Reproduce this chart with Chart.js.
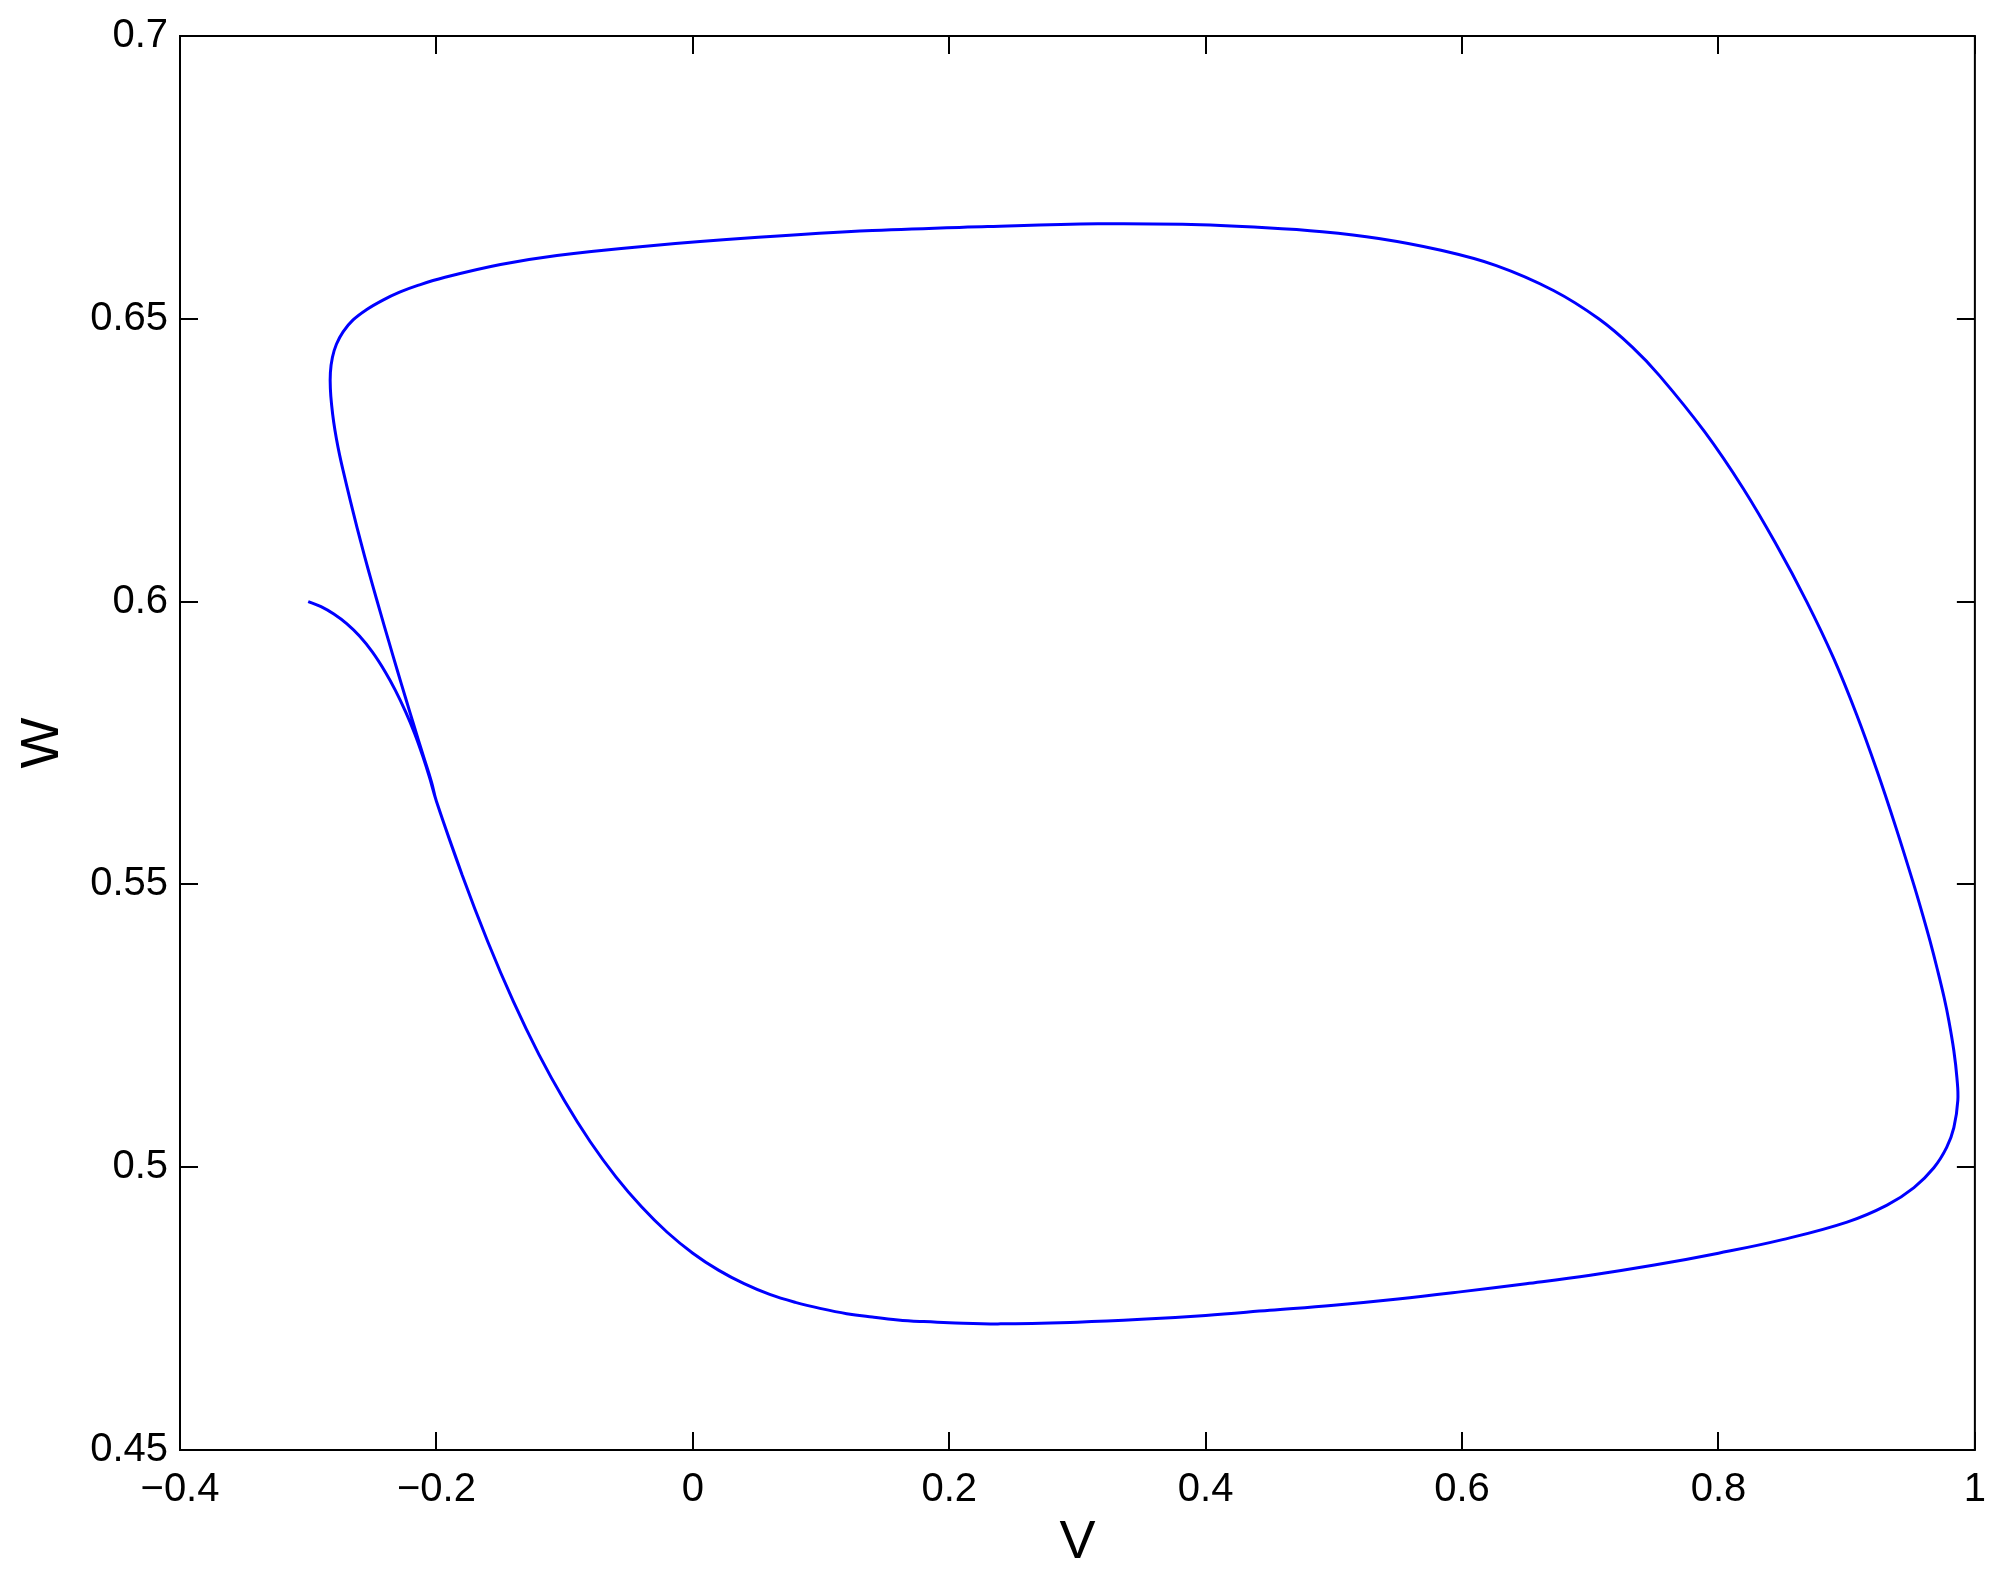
<!DOCTYPE html>
<html>
<head>
<meta charset="utf-8">
<script src="https://cdn.jsdelivr.net/npm/chart.js@4.4.1/dist/chart.umd.min.js"></script>
<style>
    html, body { margin: 0; padding: 0; background: #fff; }
    #wrap { width: 2002px; height: 1582px; }
</style>
</head>
<body>
<div id="wrap"><canvas id="phaseChart" width="2002" height="1582"></canvas></div>
<script>
// Trajectory: transient from (-0.3, 0.6), then one loop
const vValues = [
    // transient
    -0.300, -0.290, -0.280, -0.270, -0.260, -0.250, -0.240, -0.232,
    -0.224, -0.217, -0.211, -0.2055,
    // lower-left branch and bottom
    -0.200, -0.180, -0.160, -0.140, -0.120, -0.100, -0.080, -0.060,
    -0.040, -0.020, 0.000, 0.020, 0.040, 0.060, 0.080, 0.100,
    0.120, 0.140, 0.160, 0.180, 0.200, 0.240, 0.300, 0.350,
    0.400, 0.450, 0.500, 0.550, 0.600, 0.650, 0.700, 0.750,
    0.800, 0.850,
    // right corner and right branch
    0.9003, 0.9315, 0.9525, 0.968, 0.978, 0.9836, 0.9867, 0.986,
    0.9836, 0.9797, 0.976, 0.9707, 0.965, 0.9588, 0.9523, 0.9385,
    0.9238, 0.9078, 0.8898, 0.8688, 0.8453, 0.8193, 0.7893, 0.7538,
    0.7328, 0.7066, 0.6713, 0.6267,
    // top
    0.5817, 0.535, 0.491, 0.447, 0.382, 0.316, 0.230, 0.140,
    0.051, -0.039, -0.106, -0.150, -0.194,
    // top-left corner
    -0.2145, -0.2287, -0.2417, -0.2546, -0.265, -0.2728, -0.278, -0.2811,
    -0.2827, -0.2827, -0.2817, -0.2801, -0.278, -0.2754, -0.2728,
    // left branch back down past the join
    -0.2673, -0.2618, -0.256, -0.2499, -0.2436, -0.2372, -0.2307, -0.2241,
    -0.2174, -0.2106, -0.2037, -0.200, -0.180
];
const wValues = [
    0.6000, 0.5991, 0.5978, 0.5961, 0.5939, 0.5911, 0.5876, 0.5843,
    0.5805, 0.5767, 0.5729, 0.5690,
    0.5647, 0.5517, 0.5399, 0.5293, 0.5199, 0.5117, 0.5045, 0.4983,
    0.4930, 0.4885, 0.4848, 0.4818, 0.4794, 0.4775, 0.4761, 0.4750,
    0.4741, 0.4735, 0.4730, 0.4727, 0.4725, 0.4723, 0.4726, 0.4731,
    0.4738, 0.4747, 0.4756, 0.4767, 0.4780, 0.4794, 0.4809, 0.4827,
    0.4848, 0.4872,
    0.4903, 0.4933, 0.4964, 0.4999, 0.5035, 0.5070, 0.5118, 0.5158,
    0.5206, 0.5259, 0.5300, 0.5350, 0.5400, 0.5450, 0.5500, 0.5600,
    0.5700, 0.5800, 0.5900, 0.6000, 0.6100, 0.6200, 0.6300, 0.6400,
    0.6450, 0.6500, 0.6550, 0.6594,
    0.6622, 0.6642, 0.6654, 0.6661, 0.6667, 0.6668, 0.6663, 0.6656,
    0.6644, 0.6628, 0.6612, 0.6596, 0.6573,
    0.6559, 0.6547, 0.6533, 0.6516, 0.6498, 0.6477, 0.6455, 0.6432,
    0.6405, 0.6376, 0.6347, 0.6317, 0.6288, 0.6258, 0.6232,
    0.6180, 0.6130, 0.6080, 0.6030, 0.5980, 0.5930, 0.5880, 0.5830,
    0.5780, 0.5730, 0.5680, 0.5647, 0.5517
];

const xTicks = [-0.4, -0.2, 0, 0.2, 0.4, 0.6, 0.8, 1];
const yTicks = [0.45, 0.5, 0.55, 0.6, 0.65, 0.7];

const fmt = v => {
    const r = Math.round(v * 100) / 100;
    return r < 0 ? '\u2212' + String(-r) : String(r);
};

// box around the plot and inward ticks on all four sides
const frameTicks = {
    id: 'frameTicks',
    afterDraw(chart) {
        const { ctx, chartArea: a, scales } = chart;
        const len = 18;
        ctx.save();
        ctx.strokeStyle = '#000';
        ctx.lineWidth = 2;
        ctx.strokeRect(a.left, a.top, a.right - a.left, a.bottom - a.top);
        ctx.beginPath();
        xTicks.forEach(t => {
            const px = Math.round(scales.x.getPixelForValue(t));
            ctx.moveTo(px, a.bottom); ctx.lineTo(px, a.bottom - len);
            ctx.moveTo(px, a.top); ctx.lineTo(px, a.top + len);
        });
        yTicks.forEach(t => {
            const py = Math.round(scales.y.getPixelForValue(t));
            ctx.moveTo(a.left, py); ctx.lineTo(a.left + len, py);
            ctx.moveTo(a.right, py); ctx.lineTo(a.right - len, py);
        });
        ctx.stroke();
        ctx.restore();
    }
};

const tickFont = { family: '"Liberation Sans", Arial, sans-serif', size: 40 };
const titleFont = { family: '"Liberation Sans", Arial, sans-serif', size: 54 };

new Chart(document.getElementById('phaseChart'), {
    type: 'scatter',
    data: {
        datasets: [{
            data: vValues.map((v, i) => ({ x: v, y: wValues[i] })),
            showLine: true,
            borderColor: '#0000ff',
            borderWidth: 3,
            pointRadius: 0,
            tension: 0.4,
            fill: false
        }]
    },
    options: {
        responsive: false,
        animation: false,
        layout: { padding: { top: 32, right: 19, left: 0, bottom: 0 } },
        plugins: {
            legend: { display: false },
            tooltip: { enabled: false }
        },
        scales: {
            x: {
                type: 'linear',
                min: -0.4,
                max: 1,
                afterBuildTicks: s => { s.ticks = xTicks.map(v => ({ value: v })); },
                afterFit: s => { s.height = 132; },
                grid: { display: false, drawTicks: false },
                border: { display: false },
                ticks: {
                    color: '#000',
                    font: tickFont,
                    padding: 16,
                    maxRotation: 0,
                    autoSkip: false,
                    callback: v => fmt(v)
                },
                title: {
                    display: true,
                    text: 'V',
                    color: '#000',
                    font: titleFont,
                    padding: { top: 0, bottom: 6 }
                }
            },
            y: {
                type: 'linear',
                min: 0.45,
                max: 0.7,
                afterBuildTicks: s => { s.ticks = yTicks.map(v => ({ value: v })); },
                afterFit: s => { s.width = 180; },
                grid: { display: false, drawTicks: false },
                border: { display: false },
                ticks: {
                    color: '#000',
                    font: tickFont,
                    padding: 12,
                    autoSkip: false,
                    callback: v => fmt(v)
                },
                title: {
                    display: true,
                    text: 'W',
                    color: '#000',
                    font: titleFont,
                    padding: { top: 11, bottom: 0 }
                }
            }
        }
    },
    plugins: [frameTicks]
});
</script>
</body>
</html>
